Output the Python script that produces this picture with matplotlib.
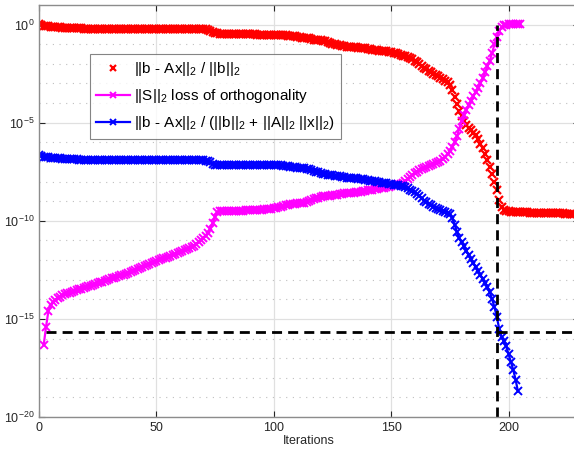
import matplotlib.pyplot as plt
import numpy as np

plt.rcParams['font.family'] = ['Liberation Sans', 'DejaVu Sans']
plt.rcParams['mathtext.default'] = 'regular'

# log10 of ||b - Ax|| / ||b||, iterations 0..228
red_x0 = 0
red_log = [
    0.02, -0.02, -0.05, -0.07, -0.09, -0.10, -0.11, -0.12, -0.13, -0.14,
    -0.15, -0.16, -0.17, -0.17, -0.18, -0.18, -0.19, -0.19, -0.19, -0.20,
    -0.20, -0.20, -0.20, -0.21, -0.21, -0.21, -0.21, -0.21, -0.21, -0.21,
    -0.21, -0.21, -0.22, -0.22, -0.22, -0.22, -0.22, -0.22, -0.22, -0.22,
    -0.22, -0.22, -0.22, -0.22, -0.22, -0.22, -0.22, -0.22, -0.22, -0.22,
    -0.22, -0.22, -0.22, -0.22, -0.22, -0.22, -0.22, -0.22, -0.22, -0.22,
    -0.22, -0.22, -0.22, -0.22, -0.22, -0.22, -0.22, -0.22, -0.22, -0.22,
    -0.22, -0.23, -0.26, -0.32, -0.38, -0.42, -0.45, -0.46, -0.47, -0.47,
    -0.48, -0.48, -0.49, -0.49, -0.49, -0.50, -0.50, -0.50, -0.50, -0.50,
    -0.50, -0.50, -0.50, -0.51, -0.51, -0.51, -0.51, -0.51, -0.51, -0.51,
    -0.51, -0.51, -0.51, -0.51, -0.52, -0.54, -0.56, -0.57, -0.58, -0.60,
    -0.62, -0.64, -0.66, -0.67, -0.68, -0.70, -0.73, -0.76, -0.78, -0.79,
    -0.80, -0.81, -0.84, -0.88, -0.93, -0.97, -1.01, -1.04, -1.06, -1.08,
    -1.10, -1.12, -1.13, -1.14, -1.15, -1.16, -1.17, -1.18, -1.19, -1.21,
    -1.23, -1.25, -1.27, -1.29, -1.31, -1.33, -1.34, -1.35, -1.36, -1.38,
    -1.40, -1.43, -1.46, -1.50, -1.54, -1.58, -1.62, -1.67, -1.72, -1.77,
    -1.83, -1.92, -2.02, -2.12, -2.20, -2.28, -2.36, -2.43, -2.50, -2.57,
    -2.64, -2.70, -2.77, -2.85, -2.93, -3.10, -3.35, -3.70, -4.05, -4.40,
    -4.65, -4.90, -5.10, -5.25, -5.38, -5.50, -5.65, -5.85, -6.06, -6.30,
    -6.60, -6.90, -7.26, -7.60, -8.00, -8.45, -8.95, -9.30, -9.46, -9.50,
    -9.52, -9.54, -9.55, -9.55, -9.56, -9.56, -9.57, -9.57, -9.57, -9.58,
    -9.58, -9.58, -9.59, -9.59, -9.59, -9.60, -9.60, -9.60, -9.61, -9.61,
    -9.61, -9.62, -9.62, -9.62, -9.63, -9.63, -9.64, -9.64, -9.65,
]

# log10 of ||S||_2, iterations 2..205
mag_x0 = 2
mag_log = [
    -16.33, -15.40, -14.60, -14.30, -14.15, -14.04, -13.95, -13.88,
    -13.80, -13.75, -13.70, -13.66, -13.62, -13.58, -13.54, -13.50, -13.46, -13.42,
    -13.38, -13.34, -13.30, -13.26, -13.22, -13.18, -13.14, -13.10, -13.06, -13.02,
    -12.98, -12.94, -12.90, -12.86, -12.82, -12.78, -12.74, -12.70, -12.65, -12.60,
    -12.55, -12.50, -12.45, -12.40, -12.35, -12.30, -12.25, -12.20, -12.15, -12.10,
    -12.05, -12.00, -11.96, -11.92, -11.88, -11.84, -11.80, -11.75, -11.70, -11.65,
    -11.60, -11.55, -11.50, -11.44, -11.38, -11.32, -11.26, -11.18, -11.10, -11.00,
    -10.88, -10.75, -10.60, -10.40, -10.10, -9.80, -9.55, -9.52, -9.52, -9.51,
    -9.51, -9.50, -9.50, -9.50, -9.49, -9.49, -9.48, -9.48, -9.47, -9.47,
    -9.46, -9.46, -9.45, -9.45, -9.44, -9.43, -9.42, -9.41, -9.40, -9.39,
    -9.37, -9.35, -9.32, -9.28, -9.24, -9.20, -9.17, -9.15, -9.13, -9.12,
    -9.11, -9.10, -9.09, -9.07, -9.04, -9.00, -8.95, -8.90, -8.86, -8.82,
    -8.79, -8.76, -8.74, -8.72, -8.71, -8.70, -8.68, -8.66, -8.64, -8.62,
    -8.60, -8.59, -8.58, -8.57, -8.56, -8.55, -8.53, -8.51, -8.49, -8.47,
    -8.45, -8.43, -8.41, -8.39, -8.37, -8.35, -8.33, -8.31, -8.29, -8.26,
    -8.23, -8.20, -8.17, -8.14, -8.10, -8.05, -7.97, -7.88, -7.78, -7.68,
    -7.58, -7.50, -7.43, -7.37, -7.31, -7.26, -7.21, -7.16, -7.11, -7.06,
    -7.02, -6.95, -6.85, -6.75, -6.62, -6.45, -6.25, -6.00, -5.70, -5.30,
    -4.90, -4.62, -4.35, -4.10, -3.87, -3.65, -3.43, -3.22, -3.00, -2.72,
    -2.42, -2.12, -1.83, -1.45, -1.00, -0.62, -0.33, -0.14, -0.04, 0.00,
    0.01, 0.02, 0.02, 0.02, 0.02, 0.02,
]

# log10 of ||b - Ax|| / (||b|| + ||A|| ||x||), iterations 0..204
blue_x0 = 0
blue_log = [
    -6.66, -6.70, -6.73, -6.75, -6.77, -6.78, -6.79, -6.80, -6.81, -6.82,
    -6.83, -6.84, -6.85, -6.86, -6.86, -6.87, -6.87, -6.88, -6.88, -6.89,
    -6.89, -6.89, -6.90, -6.90, -6.90, -6.90, -6.91, -6.91, -6.91, -6.91,
    -6.91, -6.91, -6.92, -6.92, -6.92, -6.92, -6.92, -6.92, -6.92, -6.92,
    -6.92, -6.92, -6.92, -6.92, -6.92, -6.92, -6.92, -6.92, -6.92, -6.92,
    -6.92, -6.92, -6.92, -6.92, -6.92, -6.92, -6.92, -6.92, -6.92, -6.92,
    -6.92, -6.92, -6.92, -6.92, -6.92, -6.92, -6.92, -6.92, -6.92, -6.92,
    -6.92, -6.93, -6.95, -7.02, -7.10, -7.15, -7.17, -7.18, -7.18, -7.18,
    -7.18, -7.18, -7.18, -7.18, -7.18, -7.18, -7.18, -7.18, -7.18, -7.18,
    -7.18, -7.18, -7.18, -7.18, -7.18, -7.18, -7.18, -7.18, -7.18, -7.18,
    -7.18, -7.18, -7.18, -7.18, -7.19, -7.20, -7.22, -7.24, -7.26, -7.28,
    -7.29, -7.30, -7.31, -7.32, -7.34, -7.37, -7.41, -7.45, -7.49, -7.53,
    -7.57, -7.60, -7.63, -7.65, -7.67, -7.68, -7.70, -7.72, -7.74, -7.76,
    -7.78, -7.80, -7.81, -7.82, -7.83, -7.84, -7.85, -7.87, -7.89, -7.91,
    -7.93, -7.95, -7.97, -7.99, -8.01, -8.03, -8.05, -8.07, -8.09, -8.11,
    -8.13, -8.15, -8.17, -8.19, -8.21, -8.24, -8.29, -8.35, -8.42, -8.48,
    -8.53, -8.62, -8.72, -8.85, -8.97, -9.05, -9.12, -9.20, -9.28, -9.35,
    -9.40, -9.45, -9.50, -9.55, -9.60, -9.66, -9.85, -10.20, -10.55, -10.90,
    -11.10, -11.30, -11.52, -11.75, -11.96, -12.16, -12.36, -12.56, -12.76, -12.96,
    -13.16, -13.36, -13.65, -14.00, -14.40, -14.90, -15.50, -15.90, -16.15, -16.40,
    -16.80, -17.20, -17.60, -18.10, -18.70,
]

eps_level = 2.2e-16
stop_iter = 195

labels = [
    '||b - Ax||$_2$ / ||b||$_2$',
    '||S||$_2$ loss of orthogonality',
    '||b - Ax||$_2$ / (||b||$_2$ + ||A||$_2$ ||x||$_2$)',
]

fig = plt.figure(figsize=(5.74, 4.51), dpi=100)
ax = fig.add_axes([39 / 574, 34 / 451, 540 / 574, 412 / 451])

xr = red_x0 + np.arange(len(red_log))
xm = mag_x0 + np.arange(len(mag_log))
xb = blue_x0 + np.arange(len(blue_log))

ax.plot(xr, 10.0 ** np.array(red_log), 'x', color='red', ms=6, mew=1.6,
        label=labels[0])
ax.plot(xm, 10.0 ** np.array(mag_log), '-x', color='magenta', lw=1.6, ms=6,
        mew=1.4, label=labels[1])
ax.plot(xb, 10.0 ** np.array(blue_log), '-x', color='blue', lw=1.6, ms=6,
        mew=1.4, label=labels[2])

# machine precision and stopping iteration
ax.plot([3, 240], [eps_level, eps_level], '--', color='black', lw=2,
        dashes=(3.6, 2.2))
ax.plot([stop_iter, stop_iter], [1e-20, 1e0], '--', color='black', lw=2,
        dashes=(3.6, 2.2))

ax.set_yscale('log')
ax.set_xlim(0, 230)
ax.set_ylim(1e-20, 1e1)
ax.set_xticks([0, 50, 100, 150, 200])
ax.set_yticks([1e-20, 1e-15, 1e-10, 1e-5, 1e0])
ax.set_yticklabels(['10$^{-20}$', '10$^{-15}$', '10$^{-10}$', '10$^{-5}$',
                    '10$^{0}$'])
ax.set_yticks([10.0 ** k for k in range(-20, 1)], minor=True)
ax.set_yticklabels([], minor=True)
ax.xaxis.set_minor_locator(plt.NullLocator())

ax.grid(True, which='major', color='0.88', lw=0.9)
ax.grid(True, which='minor', axis='y', color='0.75', lw=0.8,
        linestyle=(0, (1, 5)))
ax.set_axisbelow(True)

ax.tick_params(which='both', direction='in', top=True, right=True,
               labelsize=9, colors='0.15', length=4)
ax.tick_params(which='minor', length=0)
for s in ax.spines.values():
    s.set_color('0.55')
    s.set_linewidth(1.0)

ax.set_xlabel('Iterations', fontsize=9, color='0.15', labelpad=1)

leg = ax.legend(loc='upper left', bbox_to_anchor=(90 / 574, 1 - 54 / 451),
                bbox_transform=fig.transFigure, fontsize=11, frameon=True,
                fancybox=False, edgecolor='0.4', handlelength=2.2,
                borderpad=0.4, labelspacing=0.6, handletextpad=0.25,
                borderaxespad=0)
leg.get_frame().set_linewidth(0.8)
for h in leg.legend_handles:
    h.set_markersize(4)

fig.savefig('out.png', dpi=100)
